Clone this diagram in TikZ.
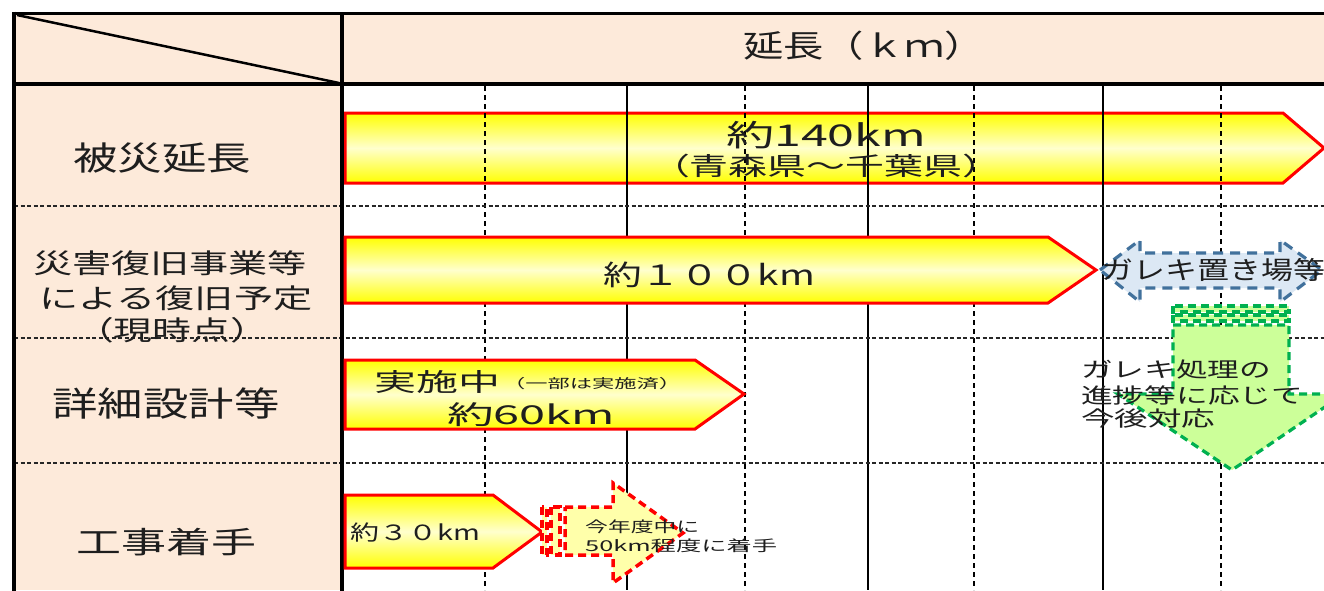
\documentclass[tikz,border=0pt]{standalone}
\usepackage{fontspec}
\setmainfont{Noto Sans CJK JP}
\usepackage{graphicx}
\newcommand{\fw}[2]{\resizebox{#1}{\height}{#2}}
\definecolor{peach}{RGB}{253,234,218}
\definecolor{ylw}{RGB}{255,255,0}
\definecolor{ylwl}{RGB}{255,255,205}
\definecolor{arred}{RGB}{255,0,0}
\definecolor{paleylw}{RGB}{255,255,170}
\definecolor{ltblue}{RGB}{220,232,244}
\definecolor{dkblue}{RGB}{65,113,156}
\definecolor{ltgreen}{RGB}{204,255,153}
\definecolor{dkgreen}{RGB}{0,176,80}
\definecolor{txt}{RGB}{30,30,30}
\tikzset{
  yarrow/.style={draw=arred, line width=3pt, top color=ylw, bottom color=ylw, middle color=ylwl, line join=miter},
  rdarrow/.style={draw=arred, line width=3.5pt, fill=paleylw, dash pattern=on 8pt off 5pt},
  blarrow/.style={draw=dkblue, line width=3.2pt, fill=ltblue, dash pattern=on 10pt off 7pt},
  grarrow/.style={draw=dkgreen, line width=3.2pt, fill=ltgreen, dash pattern=on 8pt off 5pt},
  vdash/.style={line width=2pt, dash pattern=on 5pt off 4pt},
  vsolid/.style={line width=2pt},
  hdash/.style={line width=1.7pt, dash pattern=on 4pt off 2.5pt, black!85},
  lab/.style={inner sep=0pt, text=txt, anchor=center},
  labw/.style={inner sep=0pt, text=txt, anchor=west},
}
\begin{document}
\begin{tikzpicture}[x=1pt,y=-1pt]
\useasboundingbox (0,0) rectangle (1324,590);
\clip (0,0) rectangle (1324,590);
\fill[white] (0,0) rectangle (1324,590);
% peach areas
\fill[peach] (14,13) rectangle (342,590);
\fill[peach] (342,13) rectangle (1324,84);
% 140 km arrow (under grid)
\path[yarrow] (345,113) -- (1283,113) -- (1324,148) -- (1283,183) -- (345,183) -- cycle;
% grid
\foreach \x in {485,745,974,1221} \draw[vdash] (\x,86) -- (\x,590);
\foreach \x in {627,868,1103} \draw[vsolid] (\x,86) -- (\x,590);
\foreach \y in {206,338,463} \draw[hdash] (14,\y) -- (1324,\y);
% frame
\draw[line width=4pt] (14,11.5) -- (14,592);
\draw[line width=3pt] (12,13) -- (1326,13);
\draw[line width=4.5pt] (342,13) -- (342,592);
\draw[line width=3.5pt] (14,84) -- (1326,84);
\draw[line width=2.5pt] (17,15) -- (339,83);
% other arrows
\path[yarrow] (345,237) -- (1048,237) -- (1096,270) -- (1048,303) -- (345,303) -- cycle;
\path[yarrow] (345,360) -- (695,360) -- (744,394) -- (695,429) -- (345,429) -- cycle;
\path[yarrow] (345,495) -- (493,495) -- (542,532) -- (493,568) -- (345,568) -- cycle;
% red dashed striped arrow
\path[rdarrow] (542,507) rectangle (547,555);
\path[rdarrow] (551,507) rectangle (560,555);
\path[rdarrow] (565,507) -- (613,507) -- (613,483) -- (683,533) -- (613,583) -- (613,555) -- (565,555) -- cycle;
% blue double arrow
\path[blarrow] (1100,270) -- (1140,240) -- (1140,253) -- (1280,253) -- (1280,240) -- (1322,270) -- (1280,302) -- (1280,288) -- (1140,288) -- (1140,302) -- cycle;
% green striped down arrow
\path[grarrow] (1173,306) rectangle (1289,312);
\path[grarrow] (1173,315) rectangle (1289,321);
\path[grarrow] (1173,325) -- (1289,325) -- (1289,394) -- (1344,394) -- (1232,470) -- (1118,394) -- (1173,394) -- cycle;
% header and row labels
\node[lab, font=\fontsize{31}{34}\selectfont] (hdr) at (864,46) {\fw{242pt}{延長（ｋｍ）}};
\node[lab, font=\fontsize{33}{36}\selectfont] (r1) at (162,158) {\fw{178pt}{被災延長}};
\node[lab, font=\fontsize{27}{30}\selectfont] (r2a) at (170,263) {\fw{274pt}{災害復旧事業等}};
\node[lab, font=\fontsize{27}{30}\selectfont] (r2b) at (176,298) {\fw{273pt}{による復旧予定}};
\node[lab, font=\fontsize{27}{30}\selectfont] (r2c) at (172,330) {\fw{194pt}{（現時点）}};
\node[lab, font=\fontsize{34}{37}\selectfont] (r3) at (166,403) {\fw{227pt}{詳細設計等}};
\node[lab, font=\fontsize{30}{33}\selectfont] (r4) at (166,542) {\fw{180pt}{工事着手}};
% arrow texts
\node[lab, font=\fontsize{30}{33}\selectfont] (t140) at (826,135) {\fw{200pt}{約140km}};
\node[lab, font=\fontsize{25}{28}\selectfont] (t140b) at (826,166) {\fw{350pt}{（青森県～千葉県）}};
\node[lab, font=\fontsize{28}{31}\selectfont] (t100) at (709,275) {\fw{212pt}{約１００km}};
\node[lab, font=\fontsize{25}{28}\selectfont] (t60a) at (437,382) {\fw{126pt}{実施中}};
\node[lab, font=\fontsize{13}{15}\selectfont] (t60b) at (592,384) {\fw{178pt}{（一部は実施済）}};
\node[lab, font=\fontsize{26}{29}\selectfont] (t60c) at (531,415) {\fw{168pt}{約60km}};
\node[lab, font=\fontsize{21}{24}\selectfont] (t30) at (415,533) {\fw{130pt}{約３０km}};
\node[labw, font=\fontsize{15}{17}\selectfont] (t50a) at (585,527) {\fw{114pt}{今年度中に}};
\node[labw, font=\fontsize{15}{17}\selectfont] (t50b) at (585,546) {\fw{192pt}{50km程度に着手}};
\node[lab, font=\fontsize{25}{28}\selectfont] (tgr) at (1213,270) {\fw{224pt}{ガレキ置き場等}};
\node[labw, font=\fontsize{21}{24}\selectfont] (tg1) at (1081,370) {\fw{190pt}{ガレキ処理の}};
\node[labw, font=\fontsize{21}{24}\selectfont] (tg2) at (1081,395) {\fw{222pt}{進捗等に応じて}};
\node[labw, font=\fontsize{21}{24}\selectfont] (tg3) at (1081,419) {\fw{134pt}{今後対応}};
\end{tikzpicture}
\end{document}
